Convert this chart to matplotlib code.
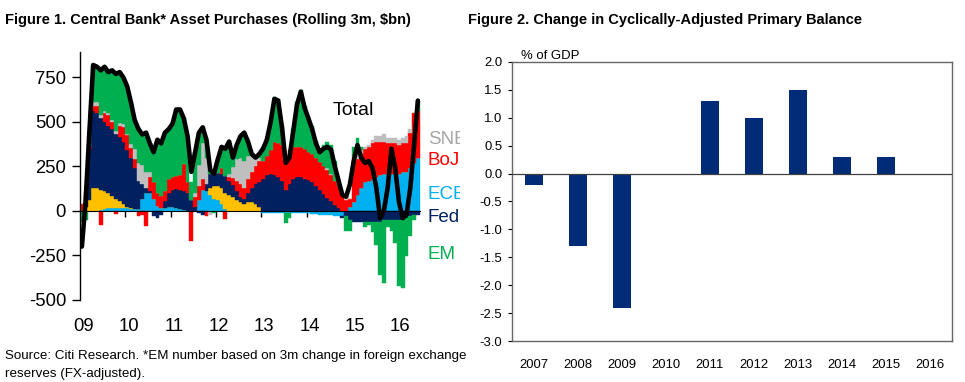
import numpy as np
import matplotlib
matplotlib.use('Agg')
import matplotlib.pyplot as plt
from matplotlib import font_manager

# ---- Figure 1 data: rolling 3m purchases, $bn, monthly Jan-2009 .. Jun-2016
ecb = [0, 0, 0, 0, 0, 5, 10, 15, 15, 15, 15, 15,
       15, 10, 10, 10, 70, 100, 100, 70, 30, 15, 15, 20,
       20, 15, 10, 5, 0, 0, 0, 60, 120, 110, 90, 70,
       60, 40, 10, 0, 0, 0, 0, 0, 0, 0, 0, 0,
       -10, -10, -10, -10, -10, -10, -10, -10, -10, -10, -10, -10,
       -10, -15, -15, -20, -20, -25, -25, -30, -30, -30, 0, 20,
       50, 90, 130, 160, 170, 180, 190, 200, 210, 210, 210, 210,
       210, 220, 220, 240, 270, 300]
boe = [0, 20, 60, 130, 130, 115, 100, 85, 70, 55, 40, 25,
       10, 5, 0, 0, 0, 0, 0, 0, 0, 0, 0, 0,
       0, 0, 0, 0, 0, 0, 0, 0, 0, 0, 40, 70,
       80, 90, 90, 90, 80, 60, 50, 40, 50, 50, 40, 20,
       0, 0, 0, 0, 0, 0, 0, 0, 0, 0, 0, 0,
       0, 0, 0, 0, 0, 0, 0, 0, 0, 0, 0, 0,
       0, 0, 0, 0, 0, 0, 0, 0, 0, 0, 0, 0,
       0, 0, 0, 0, 0, 0]
fed = [0, 80, 280, 430, 420, 400, 390, 380, 375, 360, 360, 350,
       320, 280, 230, 160, 80, 30, 10, -30, -40, -20, 40, 80,
       100, 110, 110, 110, 100, 60, 20, -10, -20, 40, 80, 75,
       75, 80, 95, 80, 65, 50, 30, 30, 50, 80, 110, 140,
       180, 200, 210, 200, 190, 170, 120, 150, 180, 190, 190, 180,
       175, 160, 140, 120, 95, 75, 55, 35, 15, -10, -30, -50,
       -60, -60, -60, -60, -60, -60, -60, -60, -50, -50, -50, -50,
       -50, -50, -40, -30, -20, -20]
boj = [40, 0, 20, 30, 40, -80, 50, 60, 40, -15, 60, 80,
       80, 60, 50, -30, -20, -85, 80, 90, 70, 70, 60, 80,
       70, 70, 80, 150, 60, -170, 60, 80, 60, -30, 0, 0,
       0, 30, -45, 20, 40, 60, 70, 60, 80, 90, 100, 120,
       100, 110, 130, 190, 190, 200, 180, 190, 180, 170, 170, 170,
       155, 160, 160, 155, 155, 155, 145, 135, 125, 90, 60, 50,
       230, 200, 190, 190, 190, 200, 200, 190, 180, 170, 170, 170,
       160, 160, 160, 200, 280, 260]
snb = [0, 0, 10, 20, 20, 20, 10, 10, 10, 20, 20, 20,
       10, 20, 60, 100, 110, 90, 30, 0, 0, 0, 0, 0,
       0, 0, 0, 0, 0, 0, 20, 120, 200, 150, -20, 0,
       0, 0, 0, 20, 60, 120, 150, 150, 130, 100, 50, 20,
       0, 0, 0, 0, 0, 0, 0, 0, 0, 0, 0, 0,
       0, 0, 0, 0, 0, 10, 10, 0, 0, 0, 0, 0,
       20, 30, 20, 10, 10, 20, 30, 30, 40, 30, 30, 30,
       30, 30, 40, 20, 0, 0]
em = [-60, -50, 80, 210, 200, 250, 250, 230, 280, 320, 285, 260,
      265, 235, 160, 190, 170, 220, 160, 170, 300, 295, 325, 280,
      300, 375, 370, 255, 260, 100, 230, 180, 90, 100, 20, -10,
      75, 120, 155, 180, 55, 80, 120, 160, 80, 0, 0, 20,
      80, 100, 170, 250, 250, 110, -60, -30, 100, 250, 320, 240,
      200, 155, 95, 75, 120, 145, 160, 110, 40, 0, -80, -60,
      60, 90, 20, -30, -20, -60, -130, -300, -355, -40, -60, -130,
      -370, -380, -215, -110, -30, 60]
total = [-200, 60, 450, 820, 810, 790, 810, 780, 790, 770, 780, 750,
         700, 610, 510, 460, 430, 440, 380, 330, 400, 380, 440, 460,
         490, 570, 570, 520, 420, 220, 330, 440, 470, 400, 230, 210,
         290, 360, 350, 390, 300, 370, 420, 440, 390, 320, 300, 320,
         350, 400, 500, 630, 620, 470, 270, 300, 450, 600, 670, 580,
         520, 460, 380, 330, 350, 360, 345, 250, 170, 90, 80, 150,
         280, 370, 300, 270, 280, 240, 130, -40, 0, 130, 350, 240,
         50, -40, -20, 130, 370, 620]
year_labels = ['09', '10', '11', '12', '13', '14', '15', '16']

# ---- Figure 2 data
years2 = ['2007', '2008', '2009', '2010', '2011', '2012', '2013', '2014', '2015', '2016']
capb = [-0.2, -1.3, -2.4, 0.0, 1.3, 1.0, 1.5, 0.3, 0.3, 0.0]

names = {f.name for f in font_manager.fontManager.ttflist}
if 'Liberation Sans Narrow' in names:
    NARROW = 'Liberation Sans Narrow'
    nscale = 1.0
else:
    NARROW = 'Liberation Sans'
    nscale = 0.82
plt.rcParams['font.family'] = ['Liberation Sans', 'DejaVu Sans']

W, H = 965, 382
fig = plt.figure(figsize=(W / 100, H / 100), dpi=100)


def box(x0, y0, x1, y1):
    return [x0 / W, 1 - y1 / H, (x1 - x0) / W, (y1 - y0) / H]


# ---------------- Figure 1
ax = fig.add_axes(box(80, 52, 460, 300))
n = len(total)
x = 2009 + (np.arange(n) + 0.5) / 12.0
series = [('ECB', ecb, '#00B0F0'), ('BoE', boe, '#FFC000'), ('Fed', fed, '#002060'),
          ('BoJ', boj, '#FF0000'), ('SNB', snb, '#BFBFBF'), ('EM', em, '#00B050')]
pos = np.zeros(n)
neg = np.zeros(n)
for name, vals, col in series:
    v = np.array(vals, dtype=float)
    bottom = np.where(v >= 0, pos, neg)
    ax.bar(x, v, width=1 / 12.0, bottom=bottom, color=col, edgecolor=col, linewidth=0.3, zorder=2)
    pos = pos + np.clip(v, 0, None)
    neg = neg + np.clip(v, None, 0)

ax.plot(x, total, color='black', lw=3.3, solid_joinstyle='round', solid_capstyle='round', zorder=4)

ax.set_xlim(2009, 2009 + 380 / 45.3)
ax.set_ylim(-500, 893)
ax.set_yticks([-500, -250, 0, 250, 500, 750])
ax.set_yticklabels(['-500', '-250', '0', '250', '500', '750'])
ax.tick_params(axis='y', direction='out', length=6, width=1, labelsize=13.3, pad=4)
ax.set_xticks(np.arange(2010, 2017))
ax.tick_params(axis='x', direction='out', length=4, width=1, labelbottom=False)
for s in ['top', 'right']:
    ax.spines[s].set_visible(False)
ax.spines['bottom'].set_position(('data', 0))
ax.spines['bottom'].set_bounds(2009, 2009 + n / 12.0)
ax.spines['left'].set_linewidth(1)

for i, lab in enumerate(year_labels):
    ax.text(2009 + i + 0.07, -0.105, lab, transform=ax.get_xaxis_transform(),
            ha='center', va='center', fontsize=13.3, clip_on=False)

ax.text(2014.585, 562, 'Total', fontsize=14, ha='left', va='center', color='black', zorder=5)
label_pos = [('SNB', 404, '#A6A6A6'), ('BoJ', 281, '#FF0000'), ('ECB', 95, '#00B0F0'),
             ('Fed', -34, '#002060'), ('EM', -247, '#00B050')]
for lab, yy, col in label_pos:
    ax.text(2016.68, yy, lab, fontsize=13.5, color=col, ha='left', va='center', clip_on=True)

# ---------------- Figure 2
ax2 = fig.add_axes(box(512, 62, 952, 341))
ax2.bar(np.arange(len(years2)), capb, width=0.41, color='#002C77', zorder=2)
ax2.axhline(0, color='#404040', lw=0.9, zorder=3)
ax2.set_xlim(-0.5, len(years2) - 0.5)
ax2.set_ylim(-3.0, 2.0)
ax2.set_yticks(np.arange(-3.0, 2.01, 0.5))
ax2.set_yticklabels(['%.1f' % v for v in np.arange(-3.0, 2.01, 0.5)], fontfamily=NARROW)
ax2.set_xticks(np.arange(len(years2)))
ax2.set_xticklabels(years2, fontfamily=NARROW)
ax2.tick_params(axis='y', direction='out', length=3, labelsize=11.5 * nscale, pad=4)
ax2.tick_params(axis='x', length=0, labelsize=11.5 * nscale, pad=13)
for s in ax2.spines.values():
    s.set_color('#666666')
    s.set_linewidth(1)
ax2.text(0.02, 1.0, '% of GDP', transform=ax2.transAxes, fontfamily=NARROW,
         fontsize=11.5 * nscale, ha='left', va='bottom')

# ---------------- titles and source
fig.text(5 / W, 1 - 20 / H, 'Figure 1. Central Bank* Asset Purchases (Rolling 3m, $bn)',
         fontfamily=NARROW, fontweight='bold', fontsize=12.9 * nscale, ha='left', va='center')
fig.text(468 / W, 1 - 20 / H, 'Figure 2. Change in Cyclically-Adjusted Primary Balance',
         fontfamily=NARROW, fontweight='bold', fontsize=12.85 * nscale, ha='left', va='center')
fig.text(5 / W, 1 - 356 / H, 'Source: Citi Research. *EM number based on 3m change in foreign exchange',
         fontfamily=NARROW, fontsize=11.8 * nscale, ha='left', va='center')
fig.text(5 / W, 1 - 374 / H, 'reserves (FX-adjusted).',
         fontfamily=NARROW, fontsize=11.8 * nscale, ha='left', va='center')

fig.savefig('out.png', dpi=100)
